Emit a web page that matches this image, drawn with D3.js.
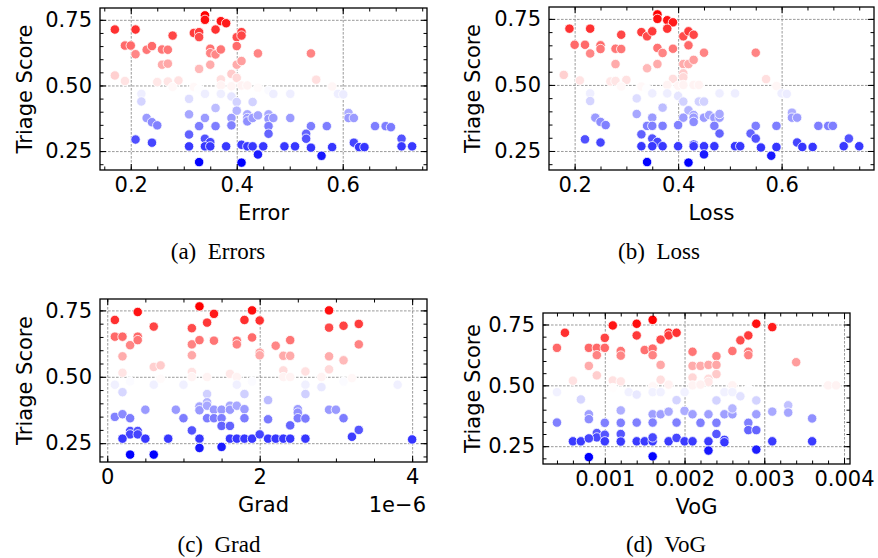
<!DOCTYPE html>
<html>
<head>
<meta charset="utf-8">
<script src="https://cdn.jsdelivr.net/npm/d3@7"></script>
<style>
  body { margin: 0; background: #fff; }
  svg { display: block; }
  text { font-family: "DejaVu Sans", sans-serif; fill: #000; }
  .tick text { font-size: 21px; font-family: "DejaVu Sans", sans-serif; }
  .tick line { stroke: #000; stroke-width: 1; }
  .grid line { stroke: #808080; stroke-width: 0.8; stroke-dasharray: 2.6, 1.4; }
  .grid .domain, .ax .domain { display: none; }
  .axlabel { font-size: 21px; }
  .caption { font-family: "Liberation Serif", "Times New Roman", serif; font-size: 23px; }
</style>
</head>
<body>
<svg id="chart" width="878" height="558"></svg>
<script>
// [metric value, triage score]
const errorPoints = [
  [0.170,0.713],[0.209,0.713],[0.340,0.767],[0.340,0.750],[0.370,0.745],[0.380,0.737],
  [0.279,0.690],[0.319,0.700],[0.329,0.703],[0.329,0.684],[0.360,0.713],
  [0.400,0.684],[0.409,0.703],[0.409,0.690],
  [0.189,0.652],[0.200,0.652],[0.209,0.619],[0.230,0.636],[0.240,0.650],
  [0.259,0.637],[0.270,0.636],[0.350,0.640],[0.350,0.623],[0.360,0.618],[0.370,0.637],
  [0.400,0.650],[0.440,0.622],[0.540,0.622],
  [0.259,0.579],[0.270,0.583],[0.329,0.563],[0.350,0.579],[0.400,0.579],[0.409,0.593],
  [0.170,0.538],[0.189,0.517],[0.250,0.513],[0.270,0.515],[0.290,0.519],
  [0.390,0.544],[0.400,0.529],[0.370,0.523],[0.550,0.522],
  [0.279,0.494],[0.319,0.494],[0.329,0.485],[0.370,0.500],[0.390,0.497],[0.409,0.500],
  [0.420,0.500],[0.440,0.491],[0.460,0.481],[0.580,0.496],
  [0.220,0.468],[0.220,0.439],[0.340,0.468],[0.370,0.468],[0.390,0.458],[0.400,0.437],
  [0.430,0.437],[0.469,0.468],[0.501,0.468],[0.591,0.468],[0.601,0.466],
  [0.310,0.449],[0.360,0.414],[0.400,0.404],
  [0.310,0.390],[0.340,0.376],[0.230,0.376],[0.240,0.360],[0.250,0.348],
  [0.420,0.390],[0.420,0.376],[0.420,0.363],[0.430,0.376],[0.440,0.386],[0.460,0.390],
  [0.460,0.373],[0.469,0.376],[0.501,0.376],
  [0.390,0.376],[0.390,0.348],[0.329,0.345],[0.360,0.345],[0.460,0.345],[0.460,0.316],
  [0.540,0.345],[0.570,0.345],[0.611,0.395],[0.611,0.376],[0.621,0.376],
  [0.661,0.345],[0.681,0.345],[0.691,0.341],
  [0.310,0.313],[0.340,0.297],[0.350,0.284],[0.209,0.294],[0.240,0.282],
  [0.531,0.316],[0.531,0.297],[0.711,0.297],
  [0.310,0.268],[0.340,0.268],[0.350,0.268],[0.380,0.268],[0.409,0.274],[0.420,0.268],
  [0.430,0.268],[0.450,0.268],[0.490,0.268],[0.510,0.268],[0.540,0.263],[0.580,0.265],
  [0.621,0.282],[0.631,0.265],[0.641,0.265],[0.711,0.268],[0.731,0.268],
  [0.440,0.237],[0.560,0.232],[0.329,0.208],[0.409,0.206]
]

const lossPoints = [
  [0.190,0.713],[0.230,0.713],[0.360,0.767],[0.360,0.750],[0.379,0.745],[0.390,0.737],
  [0.290,0.690],[0.329,0.700],[0.340,0.684],[0.350,0.703],[0.379,0.713],
  [0.410,0.684],[0.420,0.703],[0.430,0.690],
  [0.200,0.652],[0.220,0.652],[0.230,0.619],[0.250,0.650],[0.250,0.636],
  [0.279,0.637],[0.290,0.636],[0.360,0.640],[0.370,0.621],[0.390,0.637],
  [0.420,0.650],[0.450,0.622],[0.550,0.622],
  [0.279,0.579],[0.340,0.563],[0.360,0.579],[0.410,0.579],[0.420,0.579],[0.430,0.595],
  [0.179,0.538],[0.210,0.517],[0.269,0.513],[0.279,0.515],[0.300,0.519],
  [0.390,0.523],[0.410,0.544],[0.410,0.529],[0.570,0.522],
  [0.290,0.494],[0.329,0.494],[0.340,0.485],[0.379,0.500],[0.400,0.497],[0.410,0.500],
  [0.430,0.500],[0.440,0.500],[0.590,0.496],
  [0.230,0.468],[0.230,0.439],[0.350,0.468],[0.379,0.468],[0.400,0.458],[0.410,0.437],
  [0.440,0.437],[0.450,0.437],[0.480,0.468],[0.510,0.468],[0.600,0.468],[0.610,0.466],
  [0.320,0.449],[0.370,0.414],[0.420,0.404],
  [0.320,0.390],[0.350,0.376],[0.240,0.376],[0.250,0.360],[0.260,0.348],
  [0.410,0.376],[0.430,0.386],[0.430,0.376],[0.430,0.360],[0.450,0.376],[0.460,0.386],
  [0.470,0.376],[0.480,0.376],[0.480,0.390],
  [0.400,0.348],[0.340,0.345],[0.350,0.345],[0.370,0.345],[0.470,0.345],[0.480,0.316],
  [0.550,0.345],[0.590,0.345],[0.620,0.395],[0.620,0.376],[0.630,0.376],
  [0.671,0.345],[0.690,0.345],[0.699,0.345],
  [0.329,0.313],[0.350,0.297],[0.360,0.284],[0.220,0.294],[0.250,0.282],
  [0.540,0.316],[0.550,0.297],[0.730,0.297],
  [0.329,0.268],[0.350,0.268],[0.370,0.268],[0.400,0.268],[0.430,0.274],[0.430,0.268],
  [0.450,0.268],[0.470,0.268],[0.510,0.268],[0.520,0.268],[0.560,0.263],[0.590,0.265],
  [0.630,0.282],[0.640,0.265],[0.660,0.265],[0.720,0.268],[0.750,0.268],
  [0.450,0.237],[0.580,0.232],[0.340,0.208],[0.420,0.206]
]

// gradient norm, in units of 1e-6
const gradPoints = [
  [0.10,0.714],[0.40,0.744],[0.61,0.689],[1.21,0.765],[1.11,0.683],[1.31,0.704],
  [1.40,0.737],[1.80,0.714],[1.90,0.750],[2.00,0.712],[2.91,0.750],[2.91,0.685],
  [3.10,0.692],[3.30,0.699],
  [0.10,0.651],[0.20,0.651],[0.30,0.619],[0.40,0.651],[0.40,0.638],[1.11,0.622],
  [1.21,0.638],[1.40,0.636],[1.70,0.636],[1.70,0.622],[1.90,0.648],[2.21,0.617],
  [2.40,0.638],[3.30,0.622],
  [0.20,0.577],[0.61,0.537],[0.70,0.543],[1.11,0.581],[2.00,0.591],[2.00,0.581],
  [2.31,0.579],[2.40,0.579],[2.91,0.577],[3.10,0.562],[2.91,0.528],
  [0.20,0.515],[1.11,0.518],[1.61,0.511],[2.31,0.524],[2.60,0.520],
  [0.30,0.482],[0.70,0.492],[1.11,0.499],[1.31,0.499],[1.70,0.499],[1.90,0.482],
  [2.31,0.499],[2.40,0.499],[2.81,0.499],[3.10,0.482],[3.21,0.495],
  [0.10,0.470],[0.61,0.470],[1.00,0.470],[1.70,0.470],[2.60,0.470],[2.81,0.461],
  [3.81,0.470],
  [0.20,0.442],[1.31,0.435],[1.80,0.435],[2.60,0.435],[2.11,0.412],
  [1.31,0.404],[1.21,0.388],[1.21,0.374],[1.31,0.391],[1.40,0.376],[1.50,0.376],
  [1.61,0.391],[1.61,0.376],[1.70,0.391],[1.80,0.378],[0.50,0.376],[0.90,0.376],
  [2.50,0.378],[2.50,0.365],[2.91,0.376],[3.00,0.376],
  [0.10,0.349],[0.20,0.359],[0.30,0.344],[1.00,0.344],[1.31,0.344],[1.40,0.344],
  [1.50,0.344],[1.80,0.344],[2.11,0.340],[2.50,0.344],[2.60,0.343],[3.10,0.344],
  [1.50,0.315],[1.61,0.315],[2.40,0.317],
  [0.30,0.296],[0.40,0.296],[0.30,0.283],[0.40,0.283],[1.11,0.298],[3.30,0.300],
  [3.21,0.274],
  [0.20,0.267],[0.50,0.267],[0.80,0.267],[1.21,0.267],[1.61,0.267],[1.70,0.267],
  [1.80,0.267],[1.90,0.267],[2.00,0.283],[2.11,0.267],[2.21,0.267],[2.31,0.267],
  [2.40,0.267],[2.60,0.267],[4.00,0.264],
  [1.21,0.232],[1.50,0.236],[0.30,0.207],[0.61,0.207]
]

const vogPoints = [
  [0.0005,0.716],[0.0004,0.654],[0.0008,0.654],[0.0009,0.654],[0.0010,0.654],
  [0.0010,0.695],[0.0011,0.746],[0.0014,0.753],[0.0014,0.705],[0.0016,0.769],
  [0.0018,0.716],[0.0018,0.705],[0.0019,0.716],[0.0017,0.688],[0.0015,0.645],
  [0.0016,0.651],[0.0016,0.624],[0.0012,0.641],[0.0012,0.622],[0.0009,0.624],
  [0.0021,0.638],[0.0024,0.620],[0.0026,0.641],[0.0027,0.685],[0.0028,0.705],
  [0.0028,0.638],[0.0028,0.624],[0.0029,0.753],[0.0031,0.739],
  [0.0008,0.580],[0.0009,0.541],[0.0017,0.584],[0.0021,0.580],[0.0022,0.580],
  [0.0023,0.584],[0.0024,0.584],[0.0024,0.546],[0.0021,0.532],[0.0023,0.527],
  [0.0023,0.514],[0.0034,0.595],
  [0.0006,0.519],[0.0011,0.520],[0.0012,0.516],[0.0017,0.523],[0.0018,0.503],
  [0.0021,0.500],[0.0022,0.503],[0.0026,0.500],[0.0028,0.486],[0.0038,0.500],
  [0.0039,0.500],[0.0011,0.489],[0.0016,0.496],
  [0.0004,0.472],[0.0013,0.472],[0.0014,0.462],[0.0016,0.472],[0.0017,0.472],
  [0.0020,0.472],[0.0025,0.472],[0.0026,0.472],[0.0027,0.455],[0.0007,0.442],
  [0.0019,0.439],[0.0024,0.438],[0.0029,0.438],
  [0.0008,0.381],[0.0008,0.361],[0.0012,0.397],[0.0016,0.381],[0.0017,0.381],
  [0.0018,0.392],[0.0020,0.395],[0.0021,0.381],[0.0023,0.381],[0.0025,0.381],
  [0.0026,0.381],[0.0026,0.405],[0.0029,0.381],[0.0031,0.392],[0.0033,0.418],
  [0.0033,0.388],[0.0036,0.364],
  [0.0004,0.347],[0.0010,0.346],[0.0012,0.346],[0.0014,0.347],[0.0016,0.347],
  [0.0019,0.347],[0.0022,0.346],[0.0024,0.346],[0.0028,0.346],
  [0.0028,0.316],[0.0029,0.316],[0.0024,0.300],[0.0009,0.304],[0.0009,0.286],
  [0.0010,0.297],[0.0012,0.300],
  [0.0006,0.270],[0.0007,0.270],[0.0008,0.282],[0.0010,0.270],[0.0012,0.269],
  [0.0014,0.270],[0.0015,0.270],[0.0016,0.270],[0.0016,0.286],[0.0018,0.270],
  [0.0019,0.284],[0.0020,0.270],[0.0021,0.270],[0.0023,0.270],[0.0025,0.276],
  [0.0025,0.266],[0.0031,0.270],[0.0036,0.270],
  [0.0023,0.232],[0.0029,0.236],[0.0008,0.205],[0.0016,0.208]
]

const yMajorTicks = [0.25, 0.50, 0.75]
const errorTicks = [0.2, 0.4, 0.6]
const gradTicks = [0, 2, 4]
const vogTicks = [0.001, 0.002, 0.003, 0.004]

const panels = [
  {pts: errorPoints, box: [100, 8, 427, 170], xTicks: errorTicks, xMinor: 0.05, xFmt: ".1f",
   xLabel: "Error", caption: "(a)\u2002Errors", capX: 218, capY: 259, yLabelX: 32},
  {pts: lossPoints, box: [549, 7, 874, 170], xTicks: errorTicks, xMinor: 0.05, xFmt: ".1f",
   xLabel: "Loss", caption: "(b)\u2002Loss", capX: 659, capY: 259, yLabelX: 480},
  {pts: gradPoints, box: [100, 299, 427, 462], xTicks: gradTicks, xMinor: 0.5, xFmt: "d",
   xLabel: "Grad", caption: "(c)\u2002Grad", capX: 219, capY: 552, yLabelX: 32, offset: "1e\u22126"},
  {pts: vogPoints, box: [543, 313, 850, 464], xTicks: vogTicks, xMinor: 0.0002, xFmt: ".3f",
   xLabel: "VoG", caption: "(d)\u2002VoG", capX: 666, capY: 552, yLabelX: 480}
]

const svg = d3.select("#chart")
svg.append("rect").attr("width", 878).attr("height", 558).attr("fill", "#fff")

// matplotlib-style 5% margins
function padded(ext) {
  const m = (ext[1] - ext[0]) * 0.05
  return [ext[0] - m, ext[1] + m]
}

function minorTicks(domain, step) {
  const out = []
  for (let i = Math.ceil(domain[0] / step - 1e-9); i * step <= domain[1] + 1e-12; i++) {
    out.push(+(i * step).toFixed(8))
  }
  return out
}

function drawPanel(p) {
  const [x0, y0, x1, y1] = p.box
  const w = x1 - x0, h = y1 - y0
  const g = svg.append("g").attr("transform", `translate(${x0},${y0})`)

  const x = d3.scaleLinear().domain(padded(d3.extent(p.pts, d => d[0]))).range([0, w])
  const y = d3.scaleLinear().domain(padded(d3.extent(p.pts, d => d[1]))).range([h, 0])
  const [smin, smax] = d3.extent(p.pts, d => d[1])
  // bwr colormap
  const color = d3.scaleLinear()
    .domain([smin, (smin + smax) / 2, smax])
    .range(["#0000ff", "#ffffff", "#ff0000"])

  // grid
  g.append("g").attr("class", "grid")
    .call(d3.axisBottom(x).tickValues(p.xTicks).tickSize(h).tickFormat(""))
  g.append("g").attr("class", "grid")
    .call(d3.axisRight(y).tickValues(yMajorTicks).tickSize(w).tickFormat(""))

  // points
  g.append("g")
    .selectAll("circle")
    .data(p.pts)
    .join("circle")
    .attr("cx", d => x(d[0]))
    .attr("cy", d => y(d[1]))
    .attr("r", 4.7)
    .attr("fill", d => color(d[1]))
    .attr("stroke", "#fff")
    .attr("stroke-width", 0.8)

  const xm = minorTicks(x.domain(), p.xMinor)
  const ym = minorTicks(y.domain(), 0.05)

  // ticks, pointing inward on all four sides
  g.append("g").attr("class", "ax").attr("transform", `translate(0,${h})`)
    .call(d3.axisBottom(x).tickValues(xm).tickSize(-3.5).tickFormat(""))
  g.append("g").attr("class", "ax").attr("transform", `translate(0,${h})`)
    .call(d3.axisBottom(x).tickValues(p.xTicks).tickSize(-6).tickPadding(7).tickFormat(d3.format(p.xFmt)))
  g.append("g").attr("class", "ax")
    .call(d3.axisTop(x).tickValues(xm).tickSize(-3.5).tickFormat(""))
  g.append("g").attr("class", "ax")
    .call(d3.axisTop(x).tickValues(p.xTicks).tickSize(-6).tickFormat(""))
  g.append("g").attr("class", "ax")
    .call(d3.axisLeft(y).tickValues(ym).tickSize(-3.5).tickFormat(""))
  g.append("g").attr("class", "ax")
    .call(d3.axisLeft(y).tickValues(yMajorTicks).tickSize(-6).tickPadding(8).tickFormat(d3.format(".2f")))
  g.append("g").attr("class", "ax").attr("transform", `translate(${w},0)`)
    .call(d3.axisRight(y).tickValues(ym).tickSize(-3.5).tickFormat(""))
  g.append("g").attr("class", "ax").attr("transform", `translate(${w},0)`)
    .call(d3.axisRight(y).tickValues(yMajorTicks).tickSize(-6).tickFormat(""))

  g.append("rect")
    .attr("width", w).attr("height", h)
    .attr("fill", "none").attr("stroke", "#000").attr("stroke-width", 1.3)

  g.append("text").attr("class", "axlabel")
    .attr("x", w / 2).attr("y", h + 50)
    .attr("text-anchor", "middle")
    .text(p.xLabel)

  if (p.offset) {
    g.append("text").attr("class", "axlabel")
      .attr("x", w - 1).attr("y", h + 50)
      .attr("text-anchor", "end")
      .text(p.offset)
  }

  svg.append("text").attr("class", "axlabel")
    .attr("transform", `translate(${p.yLabelX},${(y0 + y1) / 2}) rotate(-90)`)
    .attr("text-anchor", "middle")
    .text("Triage Score")

  svg.append("text").attr("class", "caption")
    .attr("x", p.capX).attr("y", p.capY)
    .attr("text-anchor", "middle")
    .text(p.caption)
}

panels.forEach(drawPanel)
</script>
</body>
</html>
